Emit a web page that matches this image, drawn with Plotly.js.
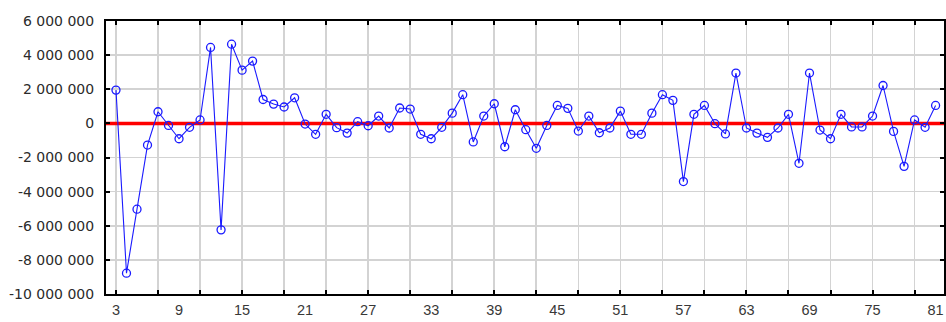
<!DOCTYPE html>
<html>
<head>
<meta charset="utf-8">
<script src="https://cdn.plot.ly/plotly-3.0.1.min.js"></script>
<style>
  html, body { margin: 0; padding: 0; background: #ffffff; }
  #chart { width: 946px; height: 322px; }
</style>
</head>
<body>
<div id="chart"></div>
<script>
// ---- data ----
const caseNumbers = [3,4,5,6,7,8,9,10,11,12,13,14,15,16,17,18,19,20,21,22,23,24,25,26,27,28,29,30,31,32,33,34,35,36,37,38,39,40,41,42,43,44,45,46,47,48,49,50,51,52,53,54,55,56,57,58,59,60,61,62,63,64,65,66,67,68,69,70,71,72,73,74,75,76,77,78,79,80,81];
const residuals = [
  1950000, -8780000, -5030000, -1270000, 680000, -120000, -900000, -230000, 200000, 4450000,
  -6240000, 4640000, 3120000, 3650000, 1400000, 1130000, 960000, 1500000, -40000, -640000,
  530000, -250000, -570000, 100000, -140000, 430000, -270000, 900000, 840000, -640000,
  -900000, -230000, 600000, 1680000, -1090000, 430000, 1150000, -1370000, 800000, -370000,
  -1460000, -120000, 1050000, 880000, -450000, 430000, -550000, -270000, 720000, -640000,
  -640000, 600000, 1680000, 1350000, -3410000, 530000, 1050000, -20000, -620000, 2950000,
  -270000, -570000, -820000, -270000, 530000, -2340000, 2950000, -390000, -900000, 530000,
  -210000, -210000, 430000, 2220000, -470000, -2520000, 200000, -230000, 1050000
];
const xGridVals = [3,7,11,15,19,23,27,31,35,39,43,47,51,55,59,63,67,71,75,79];
const xLabelVals = [3,9,15,21,27,33,39,45,51,57,63,69,75,81];
const xLabelText = ["3","9","15","21","27","33","39","45","51","57","63","69","75","81"];
const yTickVals = [6000000,4000000,2000000,0,-2000000,-4000000,-6000000,-8000000,-10000000];
const yTickText = ["6 000 000","4 000 000","2 000 000","0","-2 000 000","-4 000 000","-6 000 000","-8 000 000","-10 000 000"];
const xRange = [2.05, 81.8];
const yRange = [-10000000, 6000000];
const referenceLevel = 0;

// ---- traces ----
const refLine = {
  x: xRange, y: [referenceLevel, referenceLevel],
  type: 'scatter', mode: 'lines',
  line: { color: '#ff0000', width: 3.5 },
  hoverinfo: 'skip', showlegend: false
};
const series = {
  x: caseNumbers, y: residuals,
  type: 'scatter', mode: 'lines+markers',
  line: { color: '#1a1aff', width: 1.1 },
  marker: { symbol: 'circle-open', size: 8, color: '#1a1aff', line: { width: 1.3, color: '#1a1aff' } },
  showlegend: false
};
const labelTrace = {
  x: [], y: [], xaxis: 'x2', yaxis: 'y', type: 'scatter', showlegend: false, hoverinfo: 'skip'
};

const layout = {
  width: 946, height: 322,
  margin: { l: 106, r: 2, t: 21, b: 28 },
  paper_bgcolor: '#ffffff', plot_bgcolor: '#ffffff',
  showlegend: false,
  xaxis: {
    range: xRange, tickmode: 'array', tickvals: xGridVals, showticklabels: false,
    showgrid: true, gridcolor: '#d3d3d3', gridwidth: 1.6, zeroline: false,
    showline: true, linecolor: '#000000', linewidth: 2, mirror: 'ticks',
    ticks: 'inside', ticklen: 4, tickwidth: 2, tickcolor: '#000000'
  },
  xaxis2: {
    overlaying: 'x', anchor: 'y', side: 'bottom', range: xRange,
    tickmode: 'array', tickvals: xLabelVals, ticktext: xLabelText,
    showgrid: false, zeroline: false, showline: false, ticks: '',
    ticklabelstandoff: 5,
    tickfont: { family: 'Liberation Sans, Arial, sans-serif', size: 14.5, color: '#383838' }
  },
  yaxis: {
    range: yRange, tickmode: 'array', tickvals: yTickVals, ticktext: yTickText,
    showgrid: true, gridcolor: '#d3d3d3', gridwidth: 1.6, zeroline: false,
    showline: true, linecolor: '#000000', linewidth: 2, mirror: 'ticks',
    ticks: 'inside', ticklen: 4, tickwidth: 2, tickcolor: '#000000',
    ticklabelstandoff: 7,
    tickfont: { family: 'DejaVu Sans, Verdana, sans-serif', size: 14, color: '#2b2b2b' }
  }
};

Plotly.newPlot('chart', [refLine, series, labelTrace], layout, { staticPlot: true, displayModeBar: false });
</script>
</body>
</html>
